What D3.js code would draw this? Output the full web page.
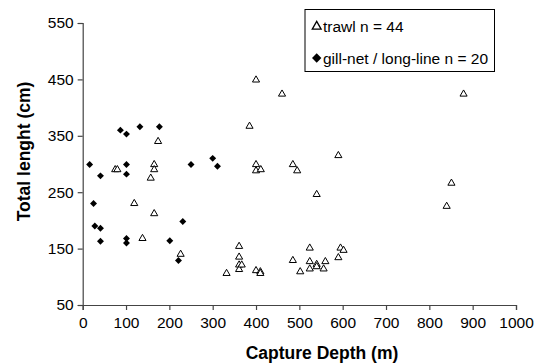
<!DOCTYPE html>
<html>
<head>
<meta charset="utf-8">
<script src="https://cdn.jsdelivr.net/npm/d3@7"></script>
<style>
  html, body { margin: 0; padding: 0; background: #fff; }
  svg { display: block; }
  text { font-family: "Liberation Sans", Arial, Helvetica, sans-serif; fill: #000; }
</style>
</head>
<body>
<svg id="chart" width="546" height="363"></svg>
<script>
// Trawl catches (open triangles): capture depth (m), total length (cm)
const trawlDepth = [75, 80, 119, 138, 157, 165, 165, 165, 174, 226,
  332, 361, 361, 361, 361, 367, 385, 400, 400, 400,
  400, 411, 410, 410, 460, 485, 485, 495, 502, 524,
  524, 524, 540, 540, 540, 556, 560, 590, 590, 595,
  602, 840, 851, 879];
const trawlLength = [290, 290, 230, 168, 275, 299, 290, 212, 340, 140,
  106, 154, 135, 121, 113, 121, 367, 449, 299, 288,
  111, 290, 109, 106, 424, 299, 129, 288, 109, 151,
  127, 114, 246, 122, 118, 114, 127, 315, 134, 151,
  147, 225, 266, 424];

// Gill-net / long-line catches (filled diamonds)
const gillDepth = [16, 25, 28, 41, 41, 41, 87, 101, 101, 101,
  101, 101, 132, 177, 201, 221, 231, 250, 300, 311];
const gillLength = [299, 230, 190, 186, 279, 163, 360, 353, 299, 282,
  168, 160, 366, 366, 164, 129, 198, 299, 310, 296];

const xTicks = [0, 100, 200, 300, 400, 500, 600, 700, 800, 900, 1000];
const yTicks = [50, 150, 250, 350, 450, 550];

const legendLabels = ["trawl n = 44", "gill-net / long-line n = 20"];
const xTitle = "Capture Depth (m)";
const yTitle = "Total lenght (cm)";

const svg = d3.select("#chart");
const x = d3.scaleLinear().domain([0, 1000]).range([82.7, 516]);
const y = d3.scaleLinear().domain([50, 550]).range([305, 23]);

const axisColor = "#444";

// X axis
const gx = svg.append("g")
  .attr("transform", `translate(0,${y(50)})`)
  .call(d3.axisBottom(x).tickValues(xTicks).tickSize(5).tickPadding(7).tickFormat(d3.format("d")));
// Y axis
const gy = svg.append("g")
  .attr("transform", `translate(${x(0)},0)`)
  .call(d3.axisLeft(y).tickValues(yTicks).tickSize(5).tickPadding(4).tickFormat(d3.format("d")));

[gx, gy].forEach(g => {
  g.select(".domain").attr("stroke", axisColor).attr("stroke-width", 1.2);
  g.selectAll(".tick line").attr("stroke", axisColor).attr("stroke-width", 1.2);
  g.selectAll(".tick text").style("font-size", "15.5px").attr("fill", "#000")
    .style("font-family", '"Liberation Sans", Arial, Helvetica, sans-serif');
});

// Axis titles
svg.append("text")
  .attr("x", 322).attr("y", 353)
  .attr("text-anchor", "middle").attr("dominant-baseline", "central")
  .style("font-size", "17.5px").style("font-weight", "bold")
  .text(xTitle);
svg.append("text")
  .attr("transform", "translate(23.5,151.5) rotate(-90)")
  .attr("text-anchor", "middle").attr("dominant-baseline", "central")
  .style("font-size", "17.5px").style("font-weight", "bold")
  .text(yTitle);

// Square diamond symbol (rotated square)
const squareDiamond = {
  draw(ctx, size) {
    const r = Math.sqrt(size / 2);
    ctx.moveTo(0, -r); ctx.lineTo(r, 0); ctx.lineTo(0, r); ctx.lineTo(-r, 0); ctx.closePath();
  }
};

// Markers
const tri = d3.symbol().type(d3.symbolTriangle).size(22);
const dia = d3.symbol().type(squareDiamond).size(24);

const trawl = trawlDepth.map((d, i) => ({ d, l: trawlLength[i] }));
const gill = gillDepth.map((d, i) => ({ d, l: gillLength[i] }));

svg.append("g").selectAll("path").data(trawl).join("path")
  .attr("d", tri)
  .attr("transform", p => `translate(${x(p.d)},${y(p.l)})`)
  .attr("fill", "#fff").attr("stroke", "#000").attr("stroke-width", 1);

svg.append("g").selectAll("path").data(gill).join("path")
  .attr("d", dia)
  .attr("transform", p => `translate(${x(p.d)},${y(p.l)})`)
  .attr("fill", "#000");

// Legend
const lg = svg.append("g");
lg.append("rect")
  .attr("x", 305).attr("y", 9.5).attr("width", 189.5).attr("height", 62)
  .attr("fill", "#fff").attr("stroke", "#000").attr("stroke-width", 1);
lg.append("path")
  .attr("d", d3.symbol().type(d3.symbolTriangle).size(34)())
  .attr("transform", "translate(316.7,26.5)")
  .attr("fill", "#fff").attr("stroke", "#000").attr("stroke-width", 1.3);
lg.append("path")
  .attr("d", d3.symbol().type(squareDiamond).size(44)())
  .attr("transform", "translate(316.7,58)")
  .attr("fill", "#000");
lg.selectAll("text.leg").data(legendLabels).join("text")
  .attr("class", "leg")
  .attr("x", 323).attr("y", (d, i) => i === 0 ? 26 : 58)
  .attr("dominant-baseline", "central")
  .style("font-size", "15.5px")
  .text(d => d);
</script>
</body>
</html>
